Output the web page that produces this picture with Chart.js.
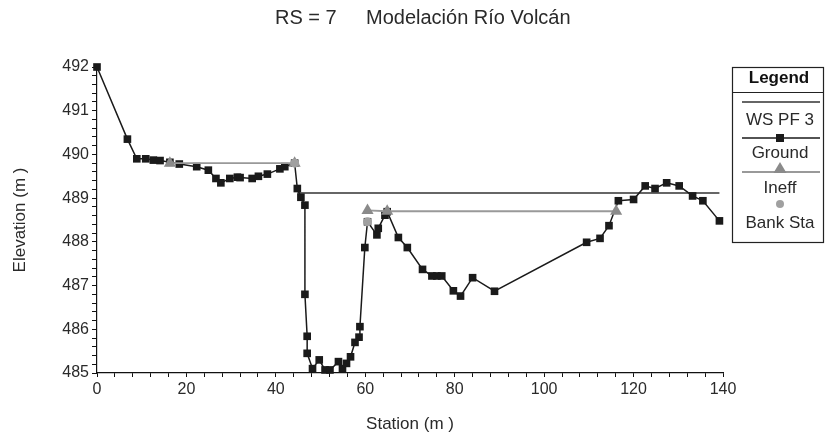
<!DOCTYPE html>
<html><head><meta charset="utf-8">
<script src="https://cdn.jsdelivr.net/npm/chart.js@4.4.1/dist/chart.umd.min.js"></script>
<style>html,body{margin:0;padding:0;background:#fff}#wrap{width:828px;height:442px;position:relative}</style>
</head><body><div id="wrap"><canvas id="c"></canvas></div>
<script>
const titleLeft = "RS = 7";
const titleRight = "Modelación Río Volcán";
const xAxisTitle = "Station (m )";
const yAxisTitle = "Elevation (m )";
const legendTitle = "Legend";
const seriesNames = ["WS PF 3", "Ground", "Ineff", "Bank Sta"];

const groundStation = [0, 6.8, 8.9, 10.9, 12.6, 14.1, 16.3, 18.4, 22.3, 24.9, 26.6, 27.7, 29.7, 31.4, 32.0, 34.7, 36.1, 38.1, 40.9, 42.0, 44.2, 44.8, 45.6, 46.5, 46.5, 47.0, 47.0, 48.2, 49.7, 51.0, 52.1, 54.0, 54.9, 55.8, 56.7, 57.7, 58.6, 58.8, 59.9, 60.5, 62.6, 62.9, 64.4, 64.9, 67.4, 69.4, 72.8, 74.9, 76.0, 77.1, 79.7, 81.3, 84.0, 88.9, 109.5, 112.5, 114.5, 116.6, 120.0, 122.6, 124.8, 127.4, 130.2, 133.2, 135.5, 139.2];
const groundElevation = [492.0, 490.35, 489.9, 489.9, 489.87, 489.86, 489.82, 489.78, 489.72, 489.64, 489.45, 489.35, 489.45, 489.48, 489.47, 489.45, 489.5, 489.55, 489.67, 489.72, 489.8, 489.22, 489.02, 488.84, 486.8, 485.84, 485.45, 485.1, 485.3, 485.07, 485.07, 485.26, 485.1, 485.22, 485.37, 485.7, 485.82, 486.06, 487.87, 488.46, 488.16, 488.31, 488.61, 488.69, 488.1, 487.87, 487.37, 487.22, 487.22, 487.22, 486.88, 486.76, 487.18, 486.87, 487.99, 488.08, 488.37, 488.94, 488.97, 489.28, 489.22, 489.35, 489.28, 489.05, 488.94, 488.48];

const wsStation = [44.8, 139.2];
const wsElevation = [489.12, 489.12];

const ineffLeftStation = [16.3, 44.2];
const ineffLeftElevation = [489.8, 489.8];
const ineffRightStation = [60.5, 64.9, 116.1];
const ineffRightElevation = [488.72, 488.7, 488.7];

const bankStation = [44.2, 60.5];
const bankElevation = [489.8, 488.46];

const xTickLabels = [0, 20, 40, 60, 80, 100, 120, 140];
const yTickLabels = [485, 486, 487, 488, 489, 490, 491, 492];

const FONT = "'Liberation Sans', Arial, sans-serif";
const TXT = '#2a2a2a';
const WS_COLOR = '#333333';
const GROUND_COLOR = '#1a1a1a';
const INEFF_COLOR = '#999999';
const INEFF_MARK = '#8a8a8a';
const BANK_COLOR = '#a0a0a0';

const pts = (xs, ys) => xs.map((x, i) => ({x: x, y: ys[i]}));

const near = (v, list) => list.find(t => Math.abs(v - t) < 1e-6);

const decorPlugin = {
  id: 'decor',
  afterDraw(chart) {
    const ctx = chart.ctx;
    ctx.save();
    // title
    ctx.fillStyle = TXT;
    ctx.font = "20px " + FONT;
    ctx.textBaseline = 'middle';
    ctx.textAlign = 'left';
    ctx.fillText(titleLeft, 275, 18);
    ctx.fillText(titleRight, 366, 18);

    // legend box
    const bx = 732, by = 67, bw = 91, bh = 175;
    ctx.strokeStyle = '#222';
    ctx.lineWidth = 1.2;
    ctx.strokeRect(bx + 0.5, by + 0.5, bw, bh);
    ctx.beginPath();
    ctx.moveTo(bx, by + 25.5); ctx.lineTo(bx + bw, by + 25.5); ctx.stroke();
    ctx.textAlign = 'center';
    ctx.font = "bold 17px " + FONT;
    ctx.fillStyle = '#111';
    ctx.fillText(legendTitle, 779, 78);
    ctx.font = "17px " + FONT;
    ctx.fillStyle = TXT;
    const cx = 780, l0 = 742, l1 = 820;
    // WS
    ctx.strokeStyle = WS_COLOR; ctx.lineWidth = 1.5;
    ctx.beginPath(); ctx.moveTo(l0, 102); ctx.lineTo(l1, 102); ctx.stroke();
    ctx.fillText(seriesNames[0], cx, 120);
    // Ground
    ctx.strokeStyle = GROUND_COLOR;
    ctx.beginPath(); ctx.moveTo(l0, 138); ctx.lineTo(l1, 138); ctx.stroke();
    ctx.fillStyle = GROUND_COLOR;
    ctx.fillRect(cx - 4, 134, 8, 8);
    ctx.fillStyle = TXT;
    ctx.fillText(seriesNames[1], cx, 153);
    // Ineff
    ctx.strokeStyle = INEFF_COLOR; ctx.lineWidth = 1.8;
    ctx.beginPath(); ctx.moveTo(l0, 172); ctx.lineTo(l1, 172); ctx.stroke();
    ctx.fillStyle = INEFF_MARK;
    ctx.beginPath(); ctx.moveTo(cx, 162); ctx.lineTo(cx + 6.5, 173); ctx.lineTo(cx - 6.5, 173); ctx.closePath(); ctx.fill();
    ctx.fillStyle = TXT;
    ctx.fillText(seriesNames[2], cx, 188);
    // Bank
    ctx.fillStyle = BANK_COLOR;
    ctx.beginPath(); ctx.arc(cx, 204, 4, 0, Math.PI * 2); ctx.fill();
    ctx.fillStyle = TXT;
    ctx.fillText(seriesNames[3], cx, 223);
    ctx.restore();
  }
};

new Chart(document.getElementById('c'), {
  type: 'scatter',
  data: {
    datasets: [
      {label: seriesNames[3], data: pts(bankStation, bankElevation), showLine: false,
       pointStyle: 'circle', pointRadius: 4.5, backgroundColor: BANK_COLOR, borderColor: BANK_COLOR, borderWidth: 0, order: 0, clip: false},
      {label: seriesNames[2], data: pts(ineffLeftStation, ineffLeftElevation), showLine: true,
       pointStyle: 'triangle', pointRadius: 7, backgroundColor: INEFF_MARK, borderColor: INEFF_COLOR, borderWidth: 1.8, pointBorderWidth: 0, order: 1, clip: false},
      {label: seriesNames[2], data: pts(ineffRightStation, ineffRightElevation), showLine: true,
       pointStyle: 'triangle', pointRadius: 7, backgroundColor: INEFF_MARK, borderColor: INEFF_COLOR, borderWidth: 1.8, pointBorderWidth: 0, order: 1, clip: false},
      {label: seriesNames[1], data: pts(groundStation, groundElevation), showLine: true,
       pointStyle: 'rect', pointRadius: 5.4, backgroundColor: GROUND_COLOR, borderColor: GROUND_COLOR, borderWidth: 1.5, pointBorderWidth: 0, order: 2, clip: false},
      {label: seriesNames[0], data: pts(wsStation, wsElevation), showLine: true,
       pointRadius: 0, borderColor: WS_COLOR, borderWidth: 1.5, order: 3, clip: false}
    ]
  },
  options: {
    responsive: true,
    maintainAspectRatio: false,
    animation: false,
    devicePixelRatio: 1,
    layout: {padding: {left: 0, right: 105, top: 67, bottom: 0}},
    plugins: {legend: {display: false}, tooltip: {enabled: false}, title: {display: false}},
    scales: {
      x: {
        type: 'linear', min: 0, max: 140,
        afterFit(s) { s.height = 69; },
        ticks: {stepSize: 4, autoSkip: false, maxRotation: 0, padding: 3, color: TXT,
          font: {family: FONT, size: 16},
          callback: (v) => { const t = near(v, xTickLabels); return t === undefined ? '' : String(t); }},
        grid: {drawOnChartArea: false, drawTicks: true, tickLength: 4, color: '#111', tickColor: '#111', tickWidth: 1},
        border: {display: true, color: '#111', width: 1.2},
        title: {display: true, text: xAxisTitle, color: TXT, font: {family: FONT, size: 17}, padding: {top: 0, bottom: 7}}
      },
      y: {
        type: 'linear', min: 485, max: 492,
        afterFit(s) { s.width = 97; },
        ticks: {stepSize: 0.2, autoSkip: false, padding: 3, color: TXT,
          font: {family: FONT, size: 16},
          callback: (v) => { const t = near(v, yTickLabels); return t === undefined ? '' : String(t); }},
        grid: {drawOnChartArea: false, drawTicks: true, tickLength: 5, color: '#111', tickColor: '#111', tickWidth: 1},
        border: {display: true, color: '#111', width: 1.2},
        title: {display: true, text: yAxisTitle, color: TXT, font: {family: FONT, size: 17}, padding: {top: 10, bottom: 0}}
      }
    }
  },
  plugins: [decorPlugin]
});
</script>
</body></html>
